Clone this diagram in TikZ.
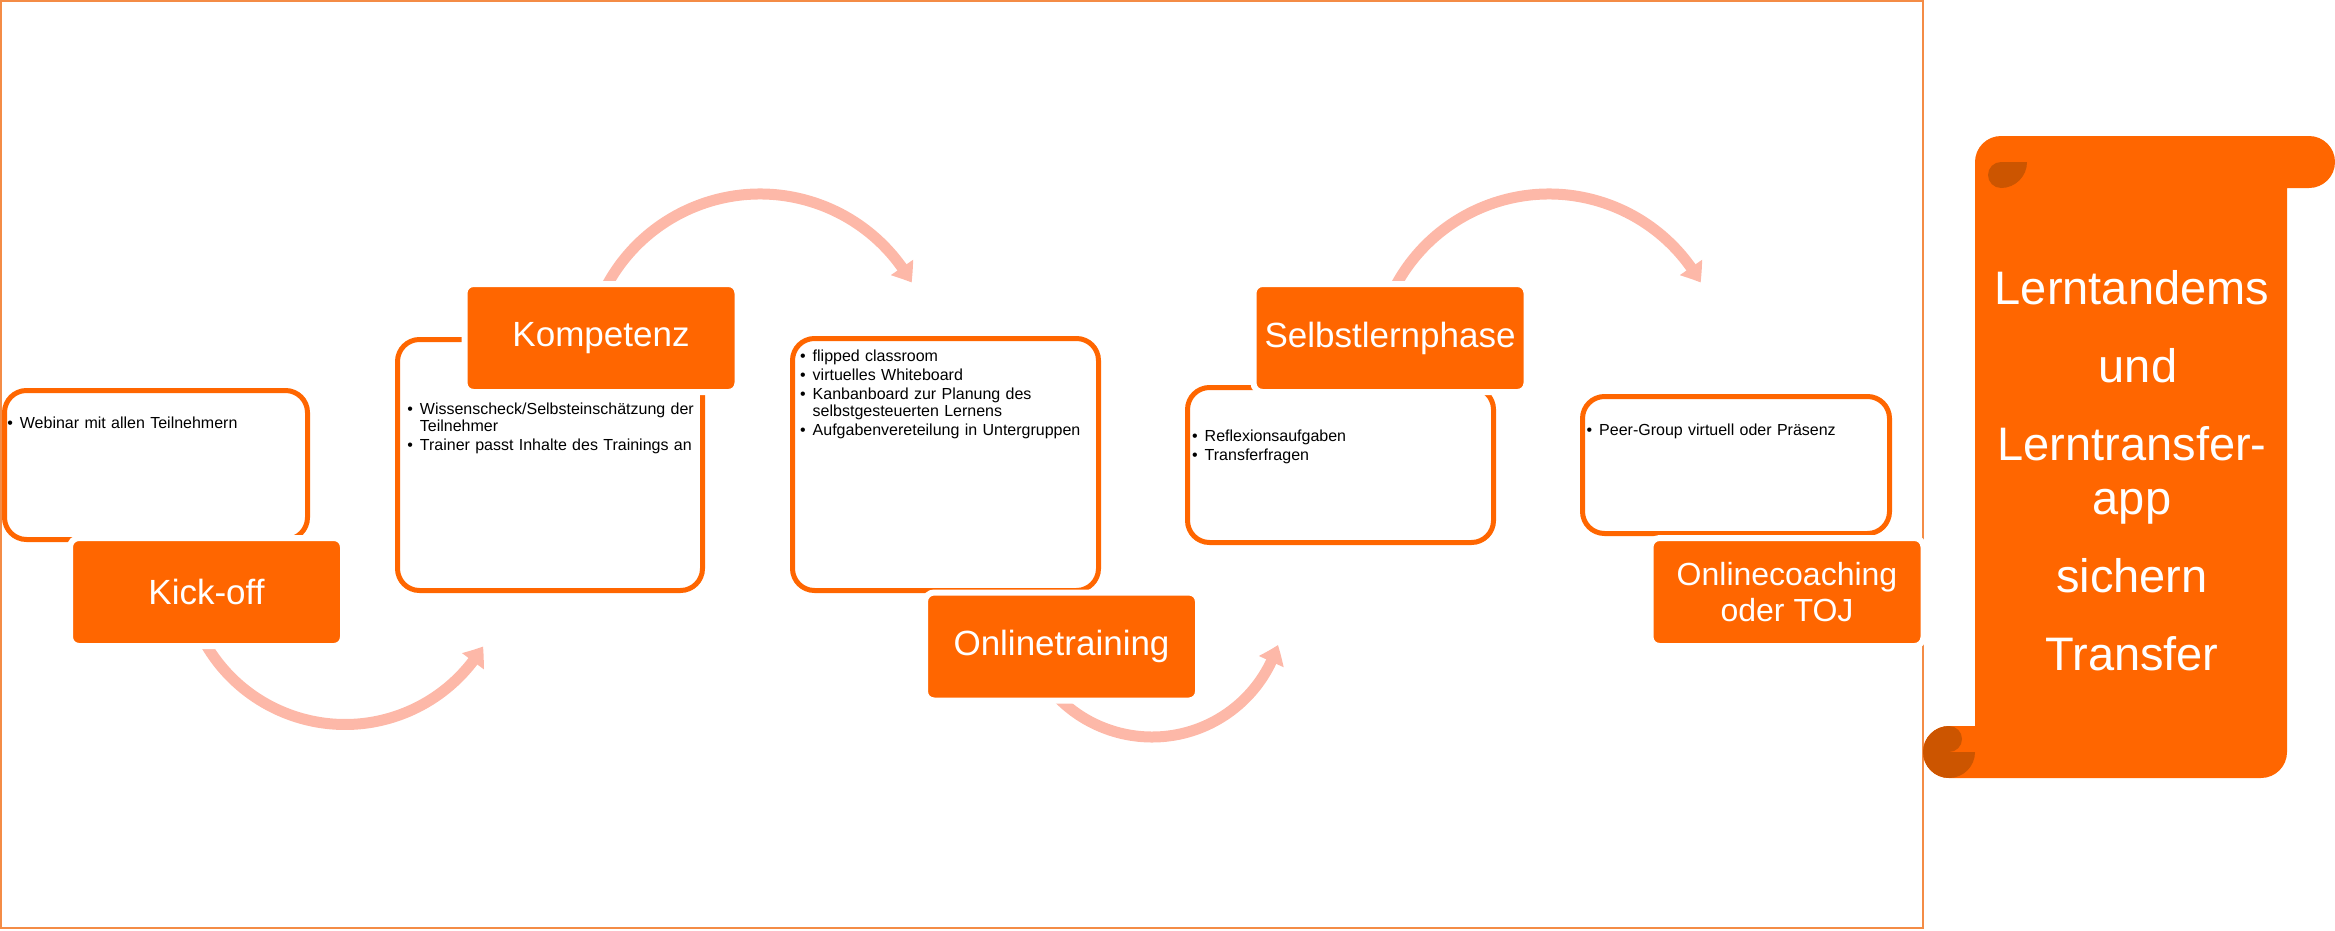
\documentclass[tikz,border=0pt]{standalone}
\usepackage{fontspec}
\setmainfont{Liberation Sans}
\usetikzlibrary{arrows.meta,bending}
\definecolor{org}{RGB}{255,102,0}
\definecolor{darkorg}{RGB}{204,85,0}
\definecolor{salmon}{RGB}{253,184,168}
\definecolor{framec}{RGB}{244,140,70}
\newcommand{\bli}[1]{\par\noindent\hangindent=12.5pt\hangafter=1\makebox[12.5pt][l]{\strut\textbullet}#1}
\newcommand{\lnbrk}{\hfil\break}
\tikzset{
  detail/.style={draw=org, line width=5pt, fill=white, rounded corners=22pt, inner sep=0pt},
  title/.style={fill=org, draw=white, line width=6pt, rounded corners=9pt, text=white,
    font=\fontsize{35}{40}\selectfont, align=center, inner sep=0pt,
    minimum width=273pt, minimum height=108pt},
  listtext/.style={anchor=north west, text width=295pt, align=left, inner sep=0pt,
    font=\fontsize{16}{17}\selectfont\setlength{\parskip}{2pt}, text=black},
  flow/.style={draw=salmon, line width=11pt, -{Triangle[width=26pt,length=18pt,bend]}},
  scrolltext/.style={text=white, font=\fontsize{47}{54}\selectfont, anchor=base, inner sep=0pt}
}
\begin{document}
\begin{tikzpicture}[x=1pt,y=-1pt]
\useasboundingbox (0,0) rectangle (2335,930);
% frame
\coordinate (frTL) at (1,1);
\coordinate (frBR) at (1923,928);
\draw[framec, line width=1.5pt] (frTL) rectangle (frBR);

% flow arcs
\coordinate (a1s) at (199.1,631.5);
\coordinate (a2s) at (596.5,308.5);
\coordinate (a3s) at (1043.9,680.7);
\coordinate (a4s) at (1385.5,308.5);
\draw[flow] (a1s) arc[start angle=205, end angle=329, radius=161pt];
\draw[flow] (a2s) arc[start angle=160, end angle=29.4, radius=174pt];
\draw[flow] (a3s) arc[start angle=215, end angle=342.4, radius=132pt];
\draw[flow] (a4s) arc[start angle=160, end angle=29.4, radius=174pt];

% detail boxes
\node[detail, minimum width=303pt, minimum height=149pt] (d1) at (156,465) {};
\node[detail, minimum width=305pt, minimum height=251pt] (d2) at (550,465) {};
\node[detail, minimum width=306pt, minimum height=252pt] (d3) at (945.5,464.5) {};
\node[detail, minimum width=306pt, minimum height=155pt] (d4) at (1340.5,465) {};
\node[detail, minimum width=307pt, minimum height=137pt] (d5) at (1736,465) {};

% detail texts
\node[listtext] (l1) at (7.2,409) {\bli{Webinar mit allen Teilnehmern}};
\node[listtext] (l2) at (407.2,395) {\bli{Wissenscheck/Selbsteinschätzung der\lnbrk Teilnehmer}\bli{Trainer passt Inhalte des Trainings an}};
\node[listtext] (l3) at (800,342) {\bli{flipped classroom}\bli{virtuelles Whiteboard}\bli{Kanbanboard zur Planung des\lnbrk selbstgesteuerten Lernens}\bli{Aufgabenvereteilung in Untergruppen}};
\node[listtext] (l4) at (1192,422) {\bli{Reflexionsaufgaben}\bli{Transferfragen}};
\node[listtext] (l5) at (1586.5,416) {\bli{Peer-Group virtuell oder Präsenz}};

% title boxes
\node[title] (t1) at (206.5,592) {Kick-off};
\node[title] (t2) at (601,338) {Kompetenz};
\node[title] (t3) at (1061.5,646.5) {Onlinetraining};
\node[title] (t4) at (1390,338) {Selbstlernphase};
\node[title, font=\fontsize{32}{36}\selectfont] (t5) at (1787,592) {Onlinecoaching\\oder TOJ};

% scroll
\fill[org] (1975,188) -- (1975,162) arc[start angle=180, end angle=90, radius=26pt]
  -- (2309,136) arc[start angle=90, end angle=-90, radius=26pt]
  -- (2287,188) -- (2287,752) arc[start angle=0, end angle=-90, radius=26pt]
  -- (1949,778) arc[start angle=-90, end angle=-270, radius=26pt]
  -- (1975,726) -- cycle;
\fill[darkorg] (2027,162) arc[start angle=0, end angle=-90, radius=26pt]
  arc[start angle=-90, end angle=-270, radius=13pt] -- cycle;
\fill[darkorg] (1949,726) arc[start angle=90, end angle=-90, radius=13pt]
  -- (1975,752) arc[start angle=0, end angle=-270, radius=26pt] -- cycle;

\node[scrolltext] (s1) at (2132,304) {Lerntandems};
\node[scrolltext] (s2) at (2138,382) {und};
\node[scrolltext] (s3) at (2132,460) {Lerntransfer-};
\node[scrolltext] (s4) at (2132,514) {app};
\node[scrolltext] (s5) at (2132,592) {sichern};
\node[scrolltext] (s6) at (2132,670) {Transfer};
\end{tikzpicture}
\end{document}
